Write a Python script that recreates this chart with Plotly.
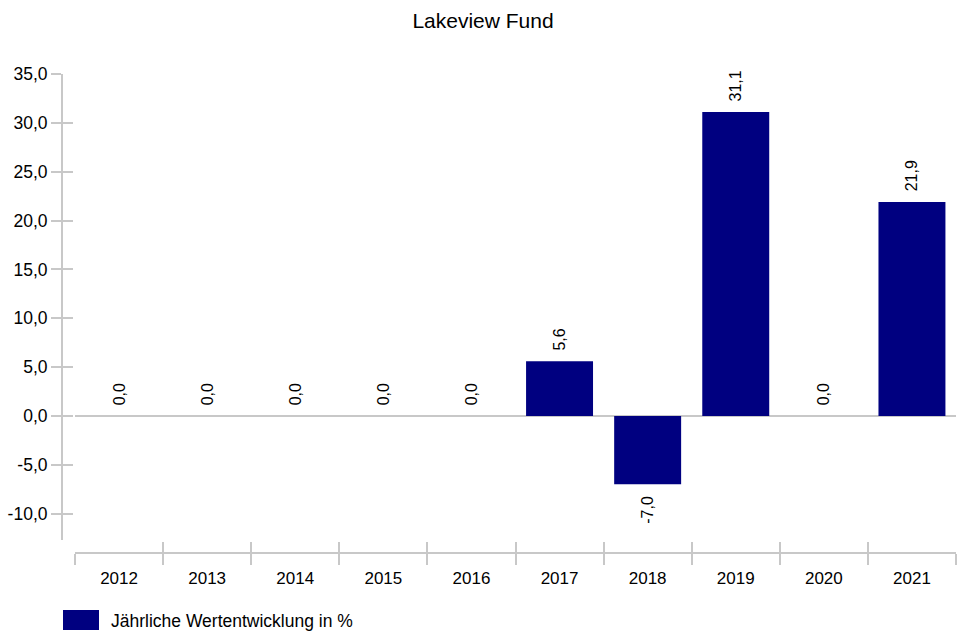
import plotly.graph_objects as go

years = ["2012", "2013", "2014", "2015", "2016", "2017", "2018", "2019", "2020", "2021"]
values = [0.0, 0.0, 0.0, 0.0, 0.0, 5.6, -7.0, 31.1, 0.0, 21.9]
series_name = "Jährliche Wertentwicklung in %"
title_text = "Lakeview Fund"
y_tick_vals = [35, 30, 25, 20, 15, 10, 5, 0, -5, -10]
y_tick_labels = ["35,0", "30,0", "25,0", "20,0", "15,0", "10,0", "5,0", "0,0", "-5,0", "-10,0"]

W, H = 957, 634
ml, mr, mt, mb = 62, 1, 74, 64
pw = W - ml - mr
ph = H - mt - mb
x_dom0 = 13 / pw
y_dom0 = 30 / ph
x_pos = 17 / ph

def px_x(p):
    return (p - ml) / pw

def px_y(p):
    return (H - mb - p) / ph

axis_col = "#c8c8c8"
bar_col = "#000080"
font_fam = "Liberation Sans, Arial, sans-serif"

# german decimal comma with a plain hyphen for negatives;
# pad labels away from bar ends (leading pad above bars, trailing below)
labels = [f"{v:.1f}".replace(".", ",") for v in values]
texts = ["\u00a0\u2009" + s if v >= 0 else s + "\u00a0\u00a0" for s, v in zip(labels, values)]

fig = go.Figure()
fig.add_trace(go.Bar(
    x=years, y=values, name=series_name,
    marker=dict(color=bar_col, line=dict(width=0)),
    text=texts, texttemplate="%{text}", textposition="outside", textangle=-90,
    textfont=dict(size=16, color="#000000", family=font_fam),
    cliponaxis=False, showlegend=False,
    xaxis="x", yaxis="y",
))
# helper trace for the overlay axes (crossing tick marks)
fig.add_trace(go.Scatter(x=years, y=values, mode="none", showlegend=False,
                         hoverinfo="skip", xaxis="x2", yaxis="y2"))

yrange = [-12.7, 35]
common_y = dict(range=yrange, tickmode="array", tickvals=y_tick_vals, showgrid=False,
                linecolor=axis_col, linewidth=2, tickcolor=axis_col, tickwidth=2,
                ticklen=10, domain=[y_dom0, 1], anchor="free", position=0)
common_x = dict(type="category", range=[-0.5, 9.5], showgrid=False,
                linecolor=axis_col, linewidth=2, tickcolor=axis_col, tickwidth=2,
                ticklen=11, tickson="boundaries", domain=[x_dom0, 1],
                anchor="free", position=x_pos)

fig.update_layout(
    width=W, height=H,
    margin=dict(l=ml, r=mr, t=mt, b=mb),
    paper_bgcolor="white", plot_bgcolor="white",
    font=dict(family=font_fam, size=17, color="#000000"),
    title=dict(text=title_text, x=483 / W, xanchor="center", y=1 - 20.5 / H,
               yanchor="middle", font=dict(size=21, color="#000000")),
    bargap=0.24,
    showlegend=False,
    xaxis=dict(**common_x, ticks="outside", showline=True, zeroline=False,
               tickfont=dict(size=17), ticklabelstandoff=10),
    xaxis2=dict(**common_x, ticks="inside", showline=False, zeroline=False,
                showticklabels=False, overlaying="x"),
    yaxis=dict(**common_y, ticktext=y_tick_labels, ticks="outside", showline=True,
               zeroline=False, tickfont=dict(size=17.5)),
    yaxis2=dict(**common_y, ticks="inside", showline=False, zeroline=False,
                showticklabels=False, overlaying="y"),
    shapes=[
        dict(type="line", xref="x domain", yref="y", x0=0, x1=1, y0=0, y1=0,
             line=dict(color=axis_col, width=2), layer="below"),
        # legend swatch
        dict(type="rect", xref="paper", yref="paper",
             x0=px_x(63), x1=px_x(99), y0=px_y(630), y1=px_y(610),
             fillcolor=bar_col, line=dict(width=0)),
    ],
    annotations=[
        dict(text=series_name, xref="paper", yref="paper", x=px_x(109), y=px_y(621),
             xanchor="left", yanchor="middle", showarrow=False,
             font=dict(size=17.5, color="#000000")),
    ],
)

fig.write_html("out.html", config={"displayModeBar": False},
               post_script="document.body.style.margin='0px';")
